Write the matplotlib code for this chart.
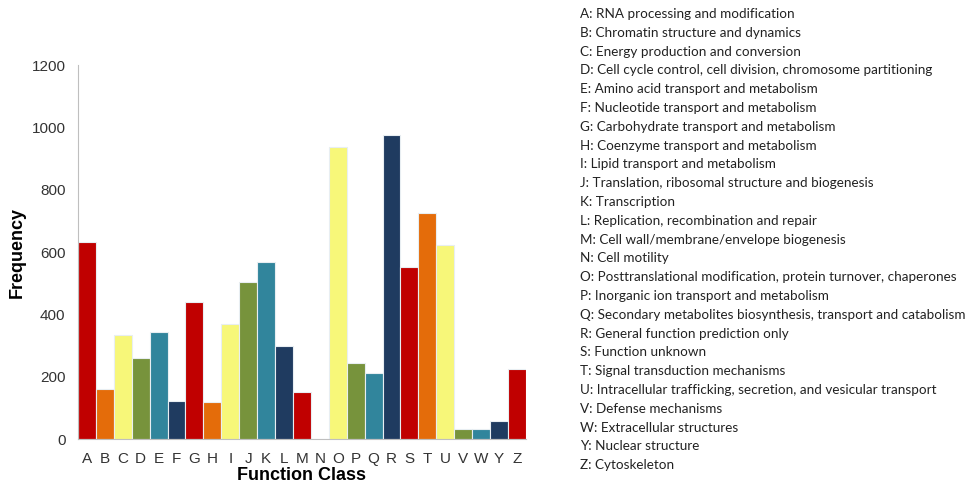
import matplotlib
matplotlib.use("Agg")
from matplotlib import pyplot as plt

clases = ["A", "B", "C", "D", "E", "F", "G", "H", "I", "J", "K", "L", "M",
          "N", "O", "P", "Q", "R", "S", "T", "U", "V", "W", "Y", "Z"]
frecuencia = [634, 162, 334, 262, 343, 122, 440, 120, 370, 504, 570, 298, 152,
              0, 938, 244, 213, 976, 554, 725, 623, 32, 34, 60, 225]
descripciones = [
    "A: RNA processing and modification",
    "B: Chromatin structure and dynamics",
    "C: Energy production and conversion",
    "D: Cell cycle control, cell division, chromosome partitioning",
    "E: Amino acid transport and metabolism",
    "F: Nucleotide transport and metabolism",
    "G: Carbohydrate transport and metabolism",
    "H: Coenzyme transport and metabolism",
    "I: Lipid transport and metabolism",
    "J: Translation, ribosomal structure and biogenesis",
    "K: Transcription",
    "L: Replication, recombination and repair",
    "M: Cell wall/membrane/envelope biogenesis",
    "N: Cell motility",
    "O: Posttranslational modification, protein turnover, chaperones",
    "P: Inorganic ion transport and metabolism",
    "Q: Secondary metabolites biosynthesis, transport and catabolism",
    "R: General function prediction only",
    "S: Function unknown",
    "T: Signal transduction mechanisms",
    "U: Intracellular trafficking, secretion, and vesicular transport",
    "V: Defense mechanisms",
    "W: Extracellular structures",
    "Y: Nuclear structure",
    "Z: Cytoskeleton",
]

paleta = ["#C00000", "#E46C0A", "#F7F779", "#77933C", "#31859C", "#1F3B60"]
colores = [paleta[i % len(paleta)] for i in range(len(clases))]

fig = plt.figure(figsize=(9.8, 4.84), dpi=100)
ax = fig.add_axes([0.0796, 0.0924, 0.457, 0.7727])

x = list(range(len(clases)))
ax.bar(x, frecuencia, width=1.0, color=colores, edgecolor="#e8eef2", linewidth=0.8)

ax.set_xlim(-0.5, len(clases) - 0.5)
ax.set_ylim(0, 1200)
ax.set_yticks([0, 200, 400, 600, 800, 1000, 1200])
ax.set_xticks(x)
ax.set_xticklabels(clases)
ax.tick_params(length=0, labelsize=11, colors="#333333", pad=9)
for t in ax.get_xticklabels() + ax.get_yticklabels():
    t.set_family("Liberation Sans")

ax.spines["top"].set_visible(False)
ax.spines["right"].set_visible(False)
ax.spines["left"].set_color("#bfbfbf")
ax.spines["bottom"].set_color("#bfbfbf")

ax.set_xlabel("Function Class", fontsize=13, fontweight="bold",
              family="Liberation Sans", labelpad=1)
ax.set_ylabel("Frequency", fontsize=13, fontweight="bold",
              family="Liberation Sans", labelpad=4)

# Leyenda de texto a la derecha
y0 = 1 - 14 / 484
paso = 18.8 / 484
for i, d in enumerate(descripciones):
    fig.text(580 / 980, y0 - i * paso, d, fontsize=9.75, family="Lato",
             color="#222222", va="center", ha="left")

fig.savefig("out.png", dpi=100)
